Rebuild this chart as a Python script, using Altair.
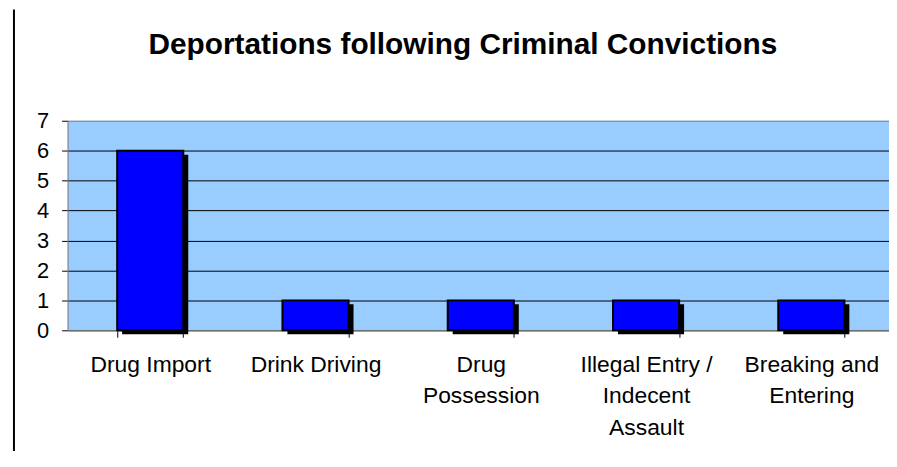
import json
import altair as alt
import pandas as pd

categories = ["Drug Import", "Drink Driving", "Drug Possession",
              "Illegal Entry / Indecent Assault", "Breaking and Entering"]
label_lines = [["Drug Import"], ["Drink Driving"], ["Drug", "Possession"],
               ["Illegal Entry /", "Indecent", "Assault"], ["Breaking and", "Entering"]]
counts = [6, 1, 1, 1, 1]
y_ticks = [0, 1, 2, 3, 4, 5, 6, 7]
title_text = "Deportations following Criminal Convictions"

df = pd.DataFrame({"crime": categories, "count": counts})

label_expr = ""
for c, lines in zip(categories, label_lines):
    label_expr += f"datum.value === {json.dumps(c)} ? {json.dumps(lines)} : "
label_expr += "datum.label"

FONT = "Liberation Sans"
W, H = 827, 211

x = alt.X(
    "crime:N", sort=categories, title=None,
    scale=alt.Scale(paddingInner=0.6, paddingOuter=0.3, range=[0, 832]),
    axis=alt.Axis(labelAngle=0, labelExpr=label_expr, tickBand="extent",
                  tickSize=7, tickColor="#000000", domainColor="#808080",
                  labelFont=FONT, labelFontSize=23, labelLineHeight=32,
                  labelPadding=16, labelBaseline="top", labelColor="#000000",
                  labelLimit=400),
)
y = alt.Y(
    "count:Q", title=None,
    scale=alt.Scale(domain=[0, 7], nice=False),
    axis=alt.Axis(values=y_ticks, tickSize=6, labelPadding=13,
                  labelFont=FONT, labelFontSize=22, labelColor="#000000",
                  gridColor={"condition": {"test": "datum.value === 7", "value": "#808080"},
                             "value": "#000000"},
                  gridOpacity=1, domainColor="#808080", tickColor="#000000"),
)

one = pd.DataFrame({"a": [0]})

base = alt.Chart(df)
shadow = base.mark_bar(color="#000000", xOffset=5, yOffset=4, y2Offset=0).encode(x=x, y=y)
bars = base.mark_bar(color="#0000FF", stroke="#000000", strokeWidth=2).encode(x=x, y=y)

frame = alt.Chart(one).mark_rule(color="#000000", strokeWidth=2).encode(
    x=alt.value(-54), y=alt.value(-112), y2=alt.value(H + 130)
)
title = alt.Chart(one).mark_text(
    font=FONT, fontSize=30, fontWeight="bold", color="#000000",
    align="center", baseline="alphabetic"
).encode(x=alt.value(398), y=alt.value(-67), text=alt.value(title_text))

chart = alt.layer(shadow, bars, frame, title).properties(
    width=W, height=H,
    autosize="none",
    padding={"left": 60, "top": 112, "right": 0, "bottom": 120},
).configure_view(fill="#99CCFF", stroke=None)

chart.save("out.html", embed_options={"renderer": "svg", "actions": False})
